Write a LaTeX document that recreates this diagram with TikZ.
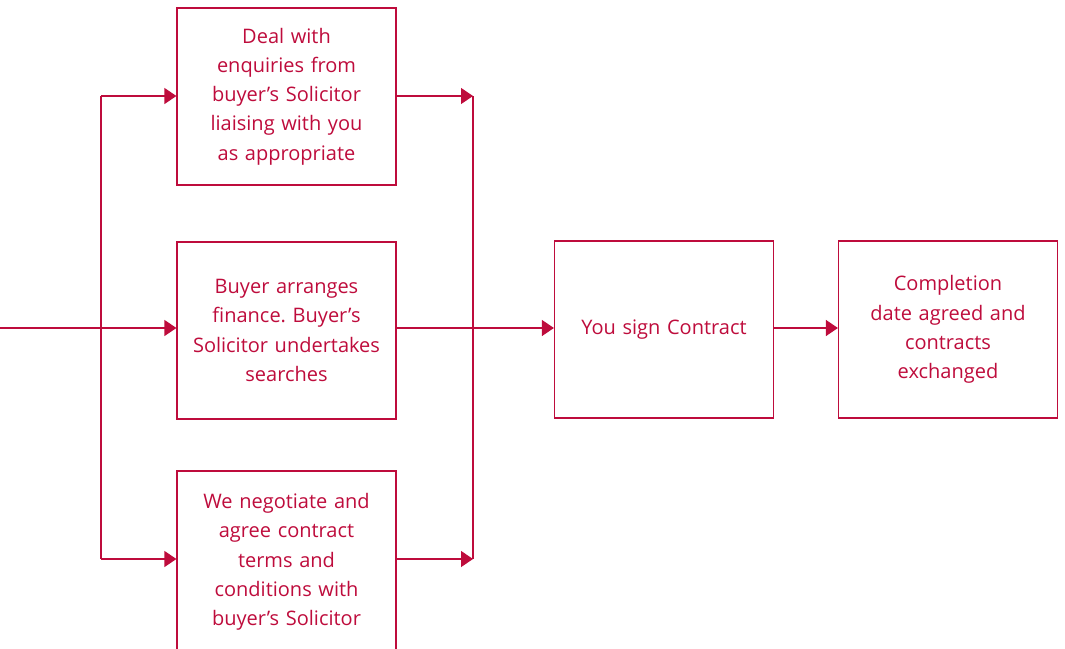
\documentclass[tikz,border=0pt]{standalone}
\usepackage{fontspec}
\setmainfont{Open Sans}
\usepackage{xcolor}
\usepackage{tikz}
\usetikzlibrary{arrows.meta,positioning}
\definecolor{crimson}{RGB}{190,12,60}
\frenchspacing
\tikzset{
  stepbox/.style={draw=crimson,line width=1.2pt,minimum width=219pt,minimum height=177pt,
    text width=210pt,align=center,text=crimson,
    font=\fontsize{20pt}{29.3pt}\selectfont},
  flow/.style={draw=crimson,line width=1.3pt},
  tip/.style={-{Triangle[length=12pt,width=16pt]}}
}
\begin{document}
\begin{tikzpicture}[x=1pt,y=-1pt]
  \useasboundingbox (0,0) rectangle (1065,648);
  \node[stepbox] (enq) at (286.5,96.5) {Deal with\\enquiries from\\buyer’s Solicitor\\liaising with you\\as appropriate};
  \node[stepbox] (fin) at (286.5,330.5) {Buyer arranges\\finance. Buyer’s\\Solicitor undertakes\\searches};
  \node[stepbox,minimum height=182pt] (neg) at (286.5,562) {We negotiate and\\agree contract\\terms and\\conditions with\\buyer’s Solicitor};
  \node[stepbox] (sign) at (664,329.5) {You sign Contract};
  \node[stepbox] (done) at (948,329.5) {Completion\\date agreed and\\contracts\\exchanged};
  % left fork
  \coordinate (in) at (0,328);
  \coordinate (forkT) at (101,96);
  \coordinate (forkB) at (101,559);
  \draw[flow] (forkT) -- (forkB);
  \draw[flow,tip] (in) -- (fin.west |- in);
  \draw[flow,tip] (forkT) -- (enq.west |- forkT);
  \draw[flow,tip] (forkB) -- (neg.west |- forkB);
  % right join
  \coordinate (joinT) at (473,96);
  \coordinate (joinB) at (473,559);
  \draw[flow] (joinT) -- (joinB);
  \draw[flow,tip] (enq.east |- joinT) -- (joinT);
  \draw[flow,tip] (neg.east |- joinB) -- (joinB);
  \draw[flow,tip] (fin.east |- in) -- (sign.west |- in);
  \draw[flow,tip] (sign.east |- in) -- (done.west |- in);
\end{tikzpicture}
\end{document}
